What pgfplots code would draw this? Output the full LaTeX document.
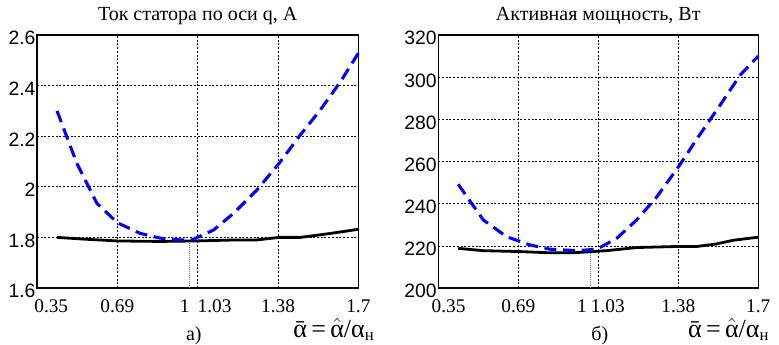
\documentclass[border=0pt]{standalone}
\usepackage{pgfplots}
\pgfplotsset{compat=1.18}
\usepackage{fontspec}
\setmainfont{Liberation Serif}
\setsansfont{Liberation Sans}
\definecolor{myblue}{RGB}{0,0,255}
\newcommand{\formula}{{\fontsize{19.5}{19.5}\selectfont ᾱ\,=\,$\hat{\mbox{α}}$/α\raisebox{-0.2ex}{\fontsize{12.5}{12.5}\selectfont н}}}
\begin{document}
\begin{tikzpicture}
\path[use as bounding box] (0,0) rectangle (584.25pt,-258.75pt);
\pgfplotsset{
  mystyle/.style={
    scale only axis, height=189.75pt,
    xmin=0.345, xmax=1.725,
    axis line style={line width=1.1pt},
    grid=major,
    grid style={black, line width=0.45pt, dash pattern=on 1.5pt off 1.3pt},
    major tick length=0pt,
    xtick={0.345,0.69,1.035,1.38,1.725},
    extra x ticks={1},
    extra x tick style={grid=none, major tick length=0pt},
    x tick label style={font=\fontsize{14.5}{14.5}\selectfont, yshift=-5pt},
    y tick label style={font=\sffamily\fontsize{14.5}{14.5}\selectfont, inner xsep=1pt, yshift=-2.5pt},
    /pgf/number format/assume math mode=true,
    title style={font=\fontsize{15}{15}\selectfont, at={(0.5,1)}, anchor=base, yshift=5pt},
    clip=false,
  },
  curveblack/.style={black, line width=2.1pt},
  curveblue/.style={myblue, line width=2.3pt, dash pattern=on 9pt off 5pt},
  guide/.style={gray, line width=0.5pt, densely dotted},
}
\begin{axis}[mystyle, width=241pt, at={(27.75pt,-216pt)}, anchor=south west,
  ymin=1.6, ymax=2.6, ytick={1.6,1.8,2,2.2,2.4,2.6},
  xticklabels={{\makebox[0pt][l]{\kern-2pt 0.35}},0.69,{\makebox[0pt][l]{1.03}},1.38,1.7},
  extra x tick labels={{\makebox[0pt][r]{1}}},
  title={Ток статора по оси q, А}]
\addplot[guide] coordinates {(1,1.6) (1,1.787)};
\addplot[curveblack] coordinates {(0.431,1.800) (0.55,1.793) (0.69,1.786) (0.874,1.784) (1.03,1.786) (1.2,1.790) (1.289,1.790) (1.385,1.800) (1.476,1.800) (1.6,1.815) (1.725,1.832)};
\addplot[curveblue] coordinates {(0.431,2.300) (0.516,2.093) (0.602,1.935) (0.69,1.858) (0.788,1.816) (0.874,1.797) (0.96,1.790) (1.01,1.790) (1.103,1.829) (1.189,1.895) (1.289,1.987) (1.385,2.093) (1.476,2.205) (1.562,2.304) (1.648,2.415) (1.725,2.528)};
\node[anchor=base, font=\fontsize{15}{15}\selectfont] at (rel axis cs:0.488,0) [yshift=-39pt] {а)};
\node[anchor=base west, inner sep=0pt] at (rel axis cs:0.797,0) [yshift=-37.5pt] {\formula};
\end{axis}
\begin{axis}[mystyle, width=240pt, at={(328.7pt,-216pt)}, anchor=south west,
  ymin=200, ymax=320, ytick={200,220,...,320},
  xticklabels={{\makebox[0pt][l]{\kern-5pt 0.35}},0.69,{\makebox[0pt][l]{\kern-5.5pt 1.03}},1.38,1.7},
  extra x tick labels={{\makebox[0pt][r]{1\kern2.5pt}}},
  title={Активная мощность, Вт}]
\addplot[guide] coordinates {(1,200) (1,217.2)};
\addplot[curveblack] coordinates {(0.431,218.8) (0.539,217.7) (0.69,217.3) (0.827,216.7) (0.942,216.8) (1.07,217.7) (1.201,219.2) (1.381,219.7) (1.46,219.7) (1.54,220.8) (1.62,222.7) (1.725,224.1)};
\addplot[curveblue] coordinates {(0.431,249.2) (0.539,232.3) (0.64,224.3) (0.741,220.4) (0.827,218.4) (0.942,217.7) (1.029,218.4) (1.115,223.6) (1.201,232.3) (1.288,243.3) (1.381,257.5) (1.467,271.8) (1.561,286.8) (1.647,301.0) (1.725,310.0)};
\node[anchor=base, font=\fontsize{15}{15}\selectfont] at (rel axis cs:0.505,0) [yshift=-39pt] {б)};
\node[anchor=base west, inner sep=0pt] at (rel axis cs:0.780,0) [yshift=-37.5pt] {\formula};
\end{axis}
\end{tikzpicture}
\end{document}
